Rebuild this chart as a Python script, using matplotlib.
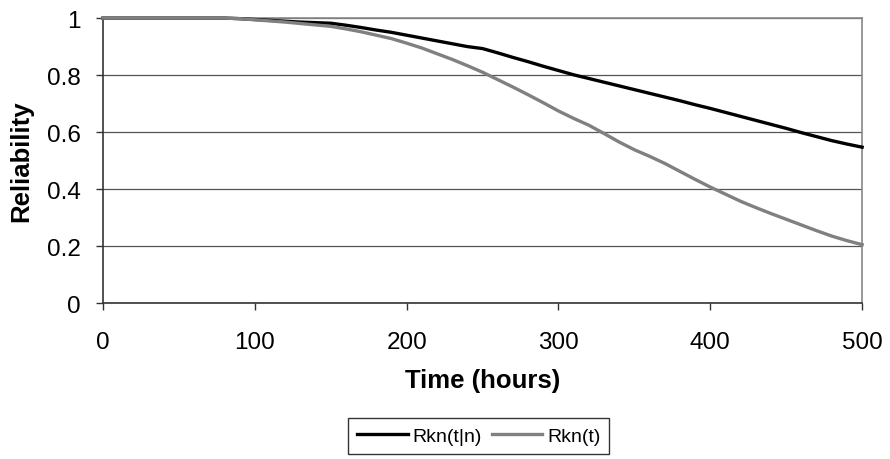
import matplotlib.pyplot as plt

plt.rcParams['font.family'] = ['Liberation Sans', 'DejaVu Sans']

# time in hours, one point every 10 h
hours = list(range(0, 510, 10))

# Rkn(t|n)
rkn_cond = [1, 1, 1, 1, 1, 1, 1, 1, 1, 0.998, 0.995,
            0.992, 0.989, 0.986, 0.984, 0.982, 0.975, 0.967, 0.958, 0.950, 0.940,
            0.930, 0.920, 0.910, 0.900, 0.893, 0.878, 0.862, 0.847, 0.831, 0.816,
            0.801, 0.788, 0.775, 0.762, 0.749, 0.736, 0.723, 0.710, 0.696, 0.683,
            0.669, 0.655, 0.641, 0.627, 0.613, 0.598, 0.584, 0.570, 0.558, 0.547]

# Rkn(t)
rkn = [1, 1, 1, 1, 1, 1, 1, 1, 1, 0.998, 0.994,
       0.990, 0.986, 0.981, 0.976, 0.971, 0.962, 0.952, 0.940, 0.928, 0.912,
       0.895, 0.875, 0.855, 0.833, 0.810, 0.784, 0.758, 0.731, 0.703, 0.674,
       0.648, 0.624, 0.595, 0.565, 0.538, 0.515, 0.490, 0.462, 0.434, 0.407,
       0.382, 0.357, 0.335, 0.314, 0.294, 0.274, 0.254, 0.235, 0.219, 0.205]

x_ticks = [0, 100, 200, 300, 400, 500]
y_ticks = [0, 0.2, 0.4, 0.6, 0.8, 1]
y_labels = ['0', '0.2', '0.4', '0.6', '0.8', '1']

fig = plt.figure(figsize=(8.9, 4.6), dpi=100)
ax = fig.add_axes([0.1157, 0.339, 0.853, 0.6195])

ax.plot(hours, rkn_cond, color='black', lw=2.4, label='Rkn(t|n)', clip_on=False, zorder=3)
ax.plot(hours, rkn, color='#808080', lw=2.4, label='Rkn(t)', clip_on=False, zorder=4)

ax.set_xlim(0, 500)
ax.set_ylim(0, 1)
ax.set_xticks(x_ticks)
ax.set_yticks(y_ticks)
ax.set_yticklabels(y_labels)
ax.tick_params(labelsize=17.5, direction='out', length=5, width=1, color='#333333')
ax.tick_params(axis='y', pad=11)
ax.tick_params(axis='x', pad=15)

ax.yaxis.grid(True, color='#555555', lw=0.9)
ax.set_axisbelow(True)

for side in ['left', 'bottom']:
    ax.spines[side].set_color('#333333')
    ax.spines[side].set_linewidth(1.2)
for side in ['top', 'right']:
    ax.spines[side].set_color('#888888')
    ax.spines[side].set_linewidth(1.2)

ax.set_xlabel('Time (hours)', fontsize=18.5, fontweight='bold', labelpad=11)
ax.set_ylabel('Reliability', fontsize=18.5, fontweight='bold', labelpad=10)

leg = fig.legend(loc='center', bbox_to_anchor=(0.538, 0.05), ncol=2, fontsize=14,
                 frameon=True, fancybox=False, edgecolor='black',
                 handlelength=2.6, columnspacing=0.5, handletextpad=0.25,
                 borderpad=0.45, borderaxespad=0)
leg.get_frame().set_linewidth(1.0)

plt.savefig('out.png', dpi=100)
